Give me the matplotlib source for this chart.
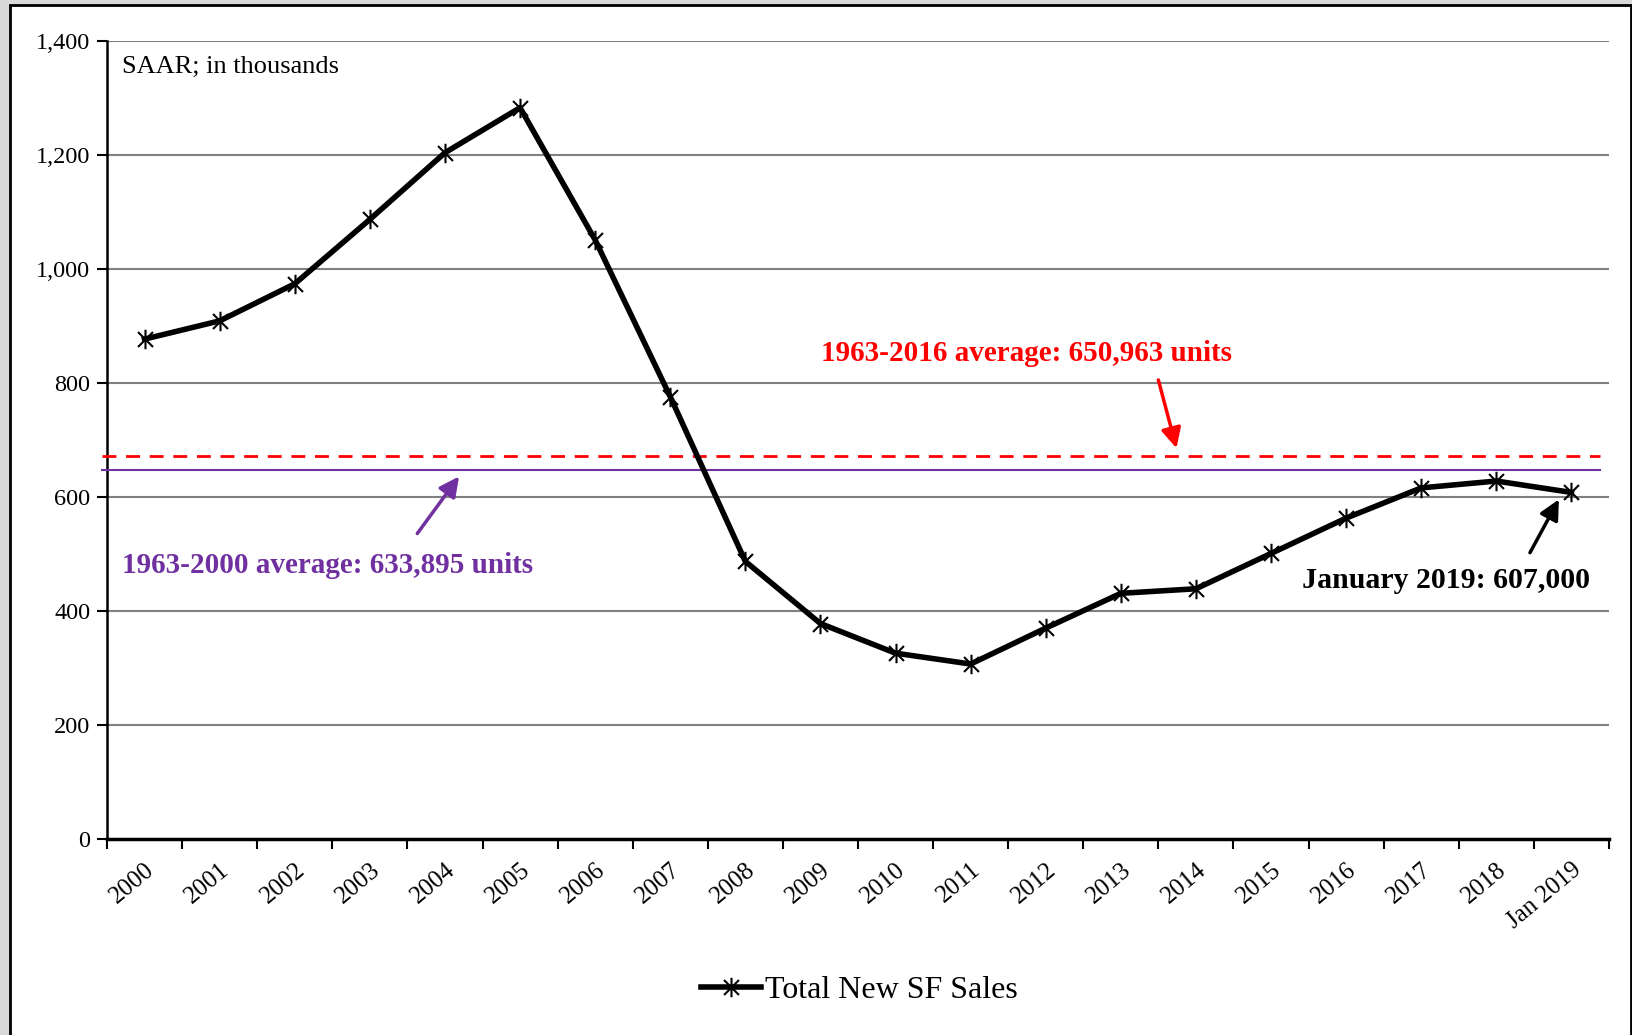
import matplotlib
matplotlib.use("Agg")
import matplotlib.pyplot as plt
from matplotlib.path import Path
from matplotlib.patches import Rectangle
import numpy as np

# ---- data ----
categories = ["2000", "2001", "2002", "2003", "2004", "2005", "2006", "2007", "2008",
              "2009", "2010", "2011", "2012", "2013", "2014", "2015", "2016", "2017",
              "2018", "Jan 2019"]
sales = [877, 909, 974, 1087, 1204, 1283, 1051, 776, 487, 378, 326, 307, 370, 431,
         439, 501, 563, 616, 628, 608]
avg_1963_2016 = 672   # drawn position of red dashed line
avg_1963_2000 = 648   # drawn position of purple line
yticks = [0, 200, 400, 600, 800, 1000, 1200, 1400]
ytick_labels = ["0", "200", "400", "600", "800", "1,000", "1,200", "1,400"]

plt.rcParams['font.family'] = ['Liberation Serif', 'DejaVu Serif']

W, H = 1633, 1035
fig = plt.figure(figsize=(W / 100, H / 100), dpi=100, facecolor='#d9d9d9')
# white framed panel
fig.patches.append(Rectangle((10 / W, -0.01), (1631 - 10) / W, 1 - 5 / H + 0.01,
                             transform=fig.transFigure, facecolor='white',
                             edgecolor='black', linewidth=2, zorder=-10))

left, right = 107 / W, 1609 / W
bottom, top = 1 - 839 / H, 1 - 41 / H
ax = fig.add_axes([left, bottom, right - left, top - bottom])
ax.set_facecolor('none')

n = len(categories)
x = np.arange(n)
ax.set_xlim(-0.5, n - 0.5)
ax.set_ylim(0, 1400)

# gridlines
ax.set_yticks(yticks)
ax.set_yticklabels(ytick_labels, fontsize=17.5)
ax.yaxis.grid(True, color='#808080', linewidth=1.5)
ax.set_axisbelow(True)

# x ticks: boundaries as major ticks, labels at centers via minor ticks
ax.set_xticks(np.arange(-0.5, n, 1.0))
ax.set_xticklabels([])
ax.set_xticks(x, minor=True)
ax.set_xticklabels(categories, minor=True, fontsize=18)
ax.tick_params(axis='x', which='major', direction='out', length=7, width=1.5, color='black')
ax.tick_params(axis='x', which='minor', length=0, pad=14)
for lab in ax.get_xticklabels(minor=True):
    lab.set_rotation(40)
    lab.set_ha('right')
    lab.set_va('top')
    lab.set_rotation_mode('anchor')
ax.tick_params(axis='y', direction='out', length=7, width=1.5, pad=5)

for s in ['top', 'right']:
    ax.spines[s].set_visible(False)
ax.spines['left'].set_linewidth(1.8)
ax.spines['bottom'].set_linewidth(2.5)

# average lines
ax.plot([-0.57, n - 0.62], [avg_1963_2016, avg_1963_2016], color='red', lw=2.0,
        dashes=(5, 3.5), clip_on=False, zorder=3)
ax.plot([-0.57, n - 0.62], [avg_1963_2000, avg_1963_2000], color='#7030A0', lw=1.5,
        clip_on=False, zorder=3)

# star marker (x plus vertical bar)
star = Path([(-1, -1), (1, 1), (-1, 1), (1, -1), (0, -1.3), (0, 1.3)],
            [Path.MOVETO, Path.LINETO, Path.MOVETO, Path.LINETO, Path.MOVETO, Path.LINETO])
ax.plot(x, sales, color='black', lw=4, marker=star, markersize=14,
        markeredgewidth=1.5, markeredgecolor='black', label='Total New SF Sales',
        zorder=5, clip_on=False)

# annotation texts
ax.text(0.01, 0.967, "SAAR; in thousands", transform=ax.transAxes, fontsize=19,
        ha='left', va='center')

ax.text(11.75, 851, "1963-2016 average: 650,963 units", color='red', fontsize=21,
        fontweight='bold', ha='center', va='center')
ax.annotate("", xy=(13.75, 681), xytext=(13.49, 810),
            arrowprops=dict(arrowstyle='-|>', color='red', lw=2.5, mutation_scale=30))

ax.text(-0.3, 479, "1963-2000 average: 633,895 units", color='#7030A0', fontsize=21,
        fontweight='bold', ha='left', va='center')
ax.annotate("", xy=(4.21, 640), xytext=(3.61, 532),
            arrowprops=dict(arrowstyle='-|>', color='#7030A0', lw=2.5, mutation_scale=30))

ax.text(17.33, 454, "January 2019: 607,000", color='black', fontsize=21.5,
        fontweight='bold', ha='center', va='center')
ax.annotate("", xy=(18.85, 600), xytext=(18.43, 498),
            arrowprops=dict(arrowstyle='-|>', color='black', lw=2.5, mutation_scale=30))

fig.legend(loc='center', bbox_to_anchor=(0.526, 1 - 990 / H), frameon=False,
           fontsize=23, handlelength=1.9, handletextpad=0.1)

fig.savefig("out.png", dpi=100, facecolor=fig.get_facecolor())
